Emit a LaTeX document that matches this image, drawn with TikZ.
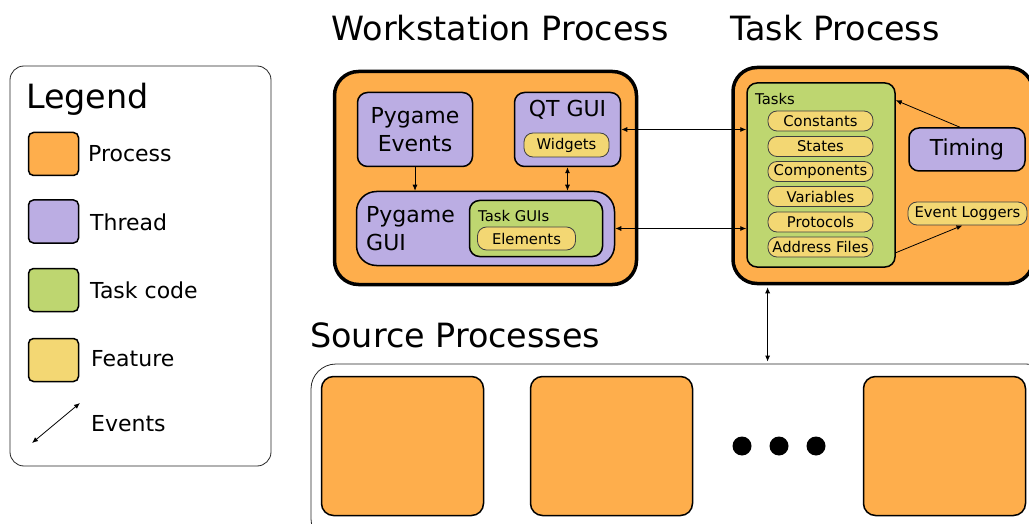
\documentclass[tikz,border=0pt]{standalone}
\usepackage{fontspec}
\setmainfont{DejaVu Sans}
\usetikzlibrary{arrows.meta,positioning}

\definecolor{procorange}{RGB}{254,174,76}
\definecolor{threadpurple}{RGB}{187,173,227}
\definecolor{taskgreen}{RGB}{190,214,112}
\definecolor{featyellow}{RGB}{243,215,115}

\begin{document}
\begin{tikzpicture}[x=1pt,y=-1pt,>={Latex[length=6pt,width=5pt]},
   every node/.style={inner sep=0pt},
   process/.style={draw,fill=procorange,rounded corners=24pt,line width=3.5pt},
   srcproc/.style={draw,fill=procorange,rounded corners=12pt,line width=1.5pt,minimum width=162pt,minimum height=139pt},
   thread/.style={draw,fill=threadpurple,rounded corners=10pt,line width=1.5pt},
   taskcode/.style={draw,fill=taskgreen,rounded corners=10pt,line width=1.5pt},
   feature/.style={draw=black!75,fill=featyellow,rounded corners=9pt,line width=0.8pt,font=\fontsize{14.8}{17}\selectfont},
   swatch/.style={draw,rounded corners=5pt,line width=1.5pt,minimum width=50pt,minimum height=43pt},
   frame/.style={draw=black!85,rounded corners=14pt,line width=0.8pt},
   link/.style={line width=0.8pt},
   headtext/.style={font=\fontsize{33.4}{40}\selectfont},
   bigtext/.style={font=\fontsize{22}{28}\selectfont},
   smalltext/.style={font=\fontsize{14.8}{17}\selectfont}]
   \useasboundingbox (0,0) rectangle (1029,524);
   \clip (0,0) rectangle (1029,524);

   % legend
   \node[frame,minimum width=261pt,minimum height=400pt] (legend) at (140.5,266) {};
   \node[headtext,anchor=base west] (legendtitle) at (26,109) {Legend};
   \node[swatch,fill=procorange] (lgproc) at (53.5,154) {};
   \node[swatch,fill=threadpurple] (lgthread) at (53.5,221.5) {};
   \node[swatch,fill=taskgreen] (lgtask) at (53.5,290) {};
   \node[swatch,fill=featyellow] (lgfeat) at (53.5,360) {};
   \node[bigtext,anchor=west] (lgproctext) at (88,154) {Process};
   \node[bigtext,anchor=west] (lgthreadtext) at (90,222) {Thread};
   \node[bigtext,anchor=west] (lgtasktext) at (90,290) {Task code};
   \node[bigtext,anchor=west] (lgfeattext) at (91,359) {Feature};
   \node[bigtext,anchor=west] (lgeventtext) at (91,424) {Events};
   \coordinate (evA) at (32,443);
   \coordinate (evB) at (80,403);
   \draw[link,<->] (evA) -- (evB);

   % titles
   \node[headtext] (wstitle) at (500,28) {Workstation Process};
   \node[headtext] (tptitle) at (835,28) {Task Process};
   \node[headtext,anchor=west] (srctitle) at (310,335) {Source Processes};

   % workstation process
   \node[process,minimum width=302pt,minimum height=213pt] (ws) at (485.5,178) {};
   \node[thread,bigtext,minimum width=115pt,minimum height=74pt,align=center] (pgevents) at (415,129.5) {Pygame\\Events};
   \node[thread,minimum width=106pt,minimum height=74pt] (qtgui) at (567.5,129.5) {};
   \node[bigtext] (qtguitext) at (567.5,110) {QT GUI};
   \node[feature,minimum width=85pt,minimum height=24pt] (widgets) at (566.5,145) {Widgets};
   \node[thread,rounded corners=20pt,minimum width=258pt,minimum height=74pt] (pggui) at (485.5,228.5) {};
   \node[bigtext,align=left,anchor=west] (pgguitext) at (366,229) {Pygame\\GUI};
   \node[taskcode,minimum width=133pt,minimum height=56pt] (taskguis) at (536,228.5) {};
   \node[smalltext,anchor=west] (taskguistext) at (478,216) {Task GUIs};
   \node[feature,minimum width=98pt,minimum height=23pt] (elements) at (526.5,238.5) {Elements};

   % task process
   \node[process,minimum width=300pt,minimum height=216pt] (tp) at (883,175.5) {};
   \node[taskcode,minimum width=148pt,minimum height=184pt] (tasks) at (821,175) {};
   \node[smalltext,anchor=west] (taskstext) at (755,99) {Tasks};
   \node[feature,minimum width=105pt,minimum height=20pt] (constants) at (820.5,121) {Constants};
   \node[feature,minimum width=105pt,minimum height=20pt] (states) at (820.5,146.5) {States};
   \node[feature,minimum width=105pt,minimum height=20pt] (components) at (820.5,171.5) {Components};
   \node[feature,minimum width=105pt,minimum height=20pt] (variables) at (820.5,196.5) {Variables};
   \node[feature,minimum width=105pt,minimum height=20pt] (protocols) at (820.5,222) {Protocols};
   \node[feature,minimum width=105pt,minimum height=20pt] (addrfiles) at (820.5,247) {Address Files};
   \node[thread,bigtext,minimum width=116pt,minimum height=43pt] (timing) at (967,149.5) {Timing};
   \node[feature,minimum width=119pt,minimum height=23pt] (loggers) at (967.5,213.5) {Event Loggers};

   % source processes
   \node[frame,rounded corners=25pt,minimum width=740pt,minimum height=180pt] (sources) at (681,454) {};
   \node[srcproc] (src1) at (402.5,446) {};
   \node[srcproc] (src2) at (611.5,446) {};
   \node[srcproc] (src3) at (944.5,446) {};
   \node[circle,fill,minimum size=19pt] (dot1) at (742,446) {};
   \node[circle,fill,minimum size=19pt] (dot2) at (779,446) {};
   \node[circle,fill,minimum size=19pt] (dot3) at (816,446) {};

   % events
   \draw[link,->] (pgevents.south) -- (pgevents.south |- pggui.north);
   \draw[link,<->] (qtgui.south) -- (qtgui.south |- pggui.north);
   \draw[link,<->] (qtgui.east) -- (qtgui.east -| tasks.west);
   \draw[link,<->] (pggui.east) -- (pggui.east -| tasks.west);
   \draw[link,->] ([xshift=-7pt]timing.north) -- ([yshift=-18pt]tasks.north east);
   \draw[link,->] ([yshift=15pt]tasks.south east) -- ([xshift=-5pt]loggers.south);
   \draw[link,<->,shorten <=2pt,shorten >=2pt] (constants.west |- tp.south) -- (constants.west |- sources.north);
\end{tikzpicture}
\end{document}
